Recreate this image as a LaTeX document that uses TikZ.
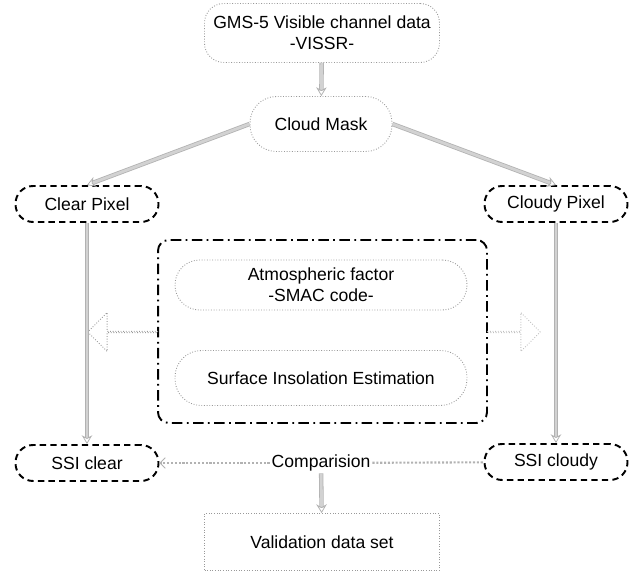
\documentclass[tikz,border=0pt]{standalone}
\usepackage{fontspec}
\setmainfont{Liberation Sans}
\usetikzlibrary{arrows.meta,shapes.arrows}

\begin{document}
\begin{tikzpicture}[x=0.02cm, y=-0.02cm, font=\fontsize{10}{12}\selectfont,
		dotbox/.style={draw=gray!80, densely dotted, line width=0.5pt, inner sep=0pt, align=center},
		dashbox/.style={draw=black, line width=1.1pt, dash pattern=on 3.6pt off 2.4pt, rounded corners=10pt,
			minimum width=2.86cm, minimum height=0.72cm, inner sep=0pt},
		flow/.style={draw=gray!60, line width=0.45pt, double=gray!35, double distance=1.6pt,
			-{Stealth[open, length=5pt, width=6pt]}},
		cmpline/.style={draw=gray!60, line width=1.2pt, densely dotted},
		blockarrow/.style={single arrow, shape border rotate=180, draw=gray!80, densely dotted, line width=0.5pt,
			minimum height=1.4cm, minimum width=0.78cm, single arrow head extend=0.25cm, inner sep=0pt}]
			\useasboundingbox (0,0) rectangle (641,573);
			
			\node[dotbox, rounded corners=11pt, minimum width=4.7cm, minimum height=1.18cm] (vissr) at (322,33) {GMS-5 Visible channel data\\-VISSR-};
			\node[dotbox, rounded corners=15pt, minimum width=2.84cm, minimum height=1.1cm] (mask) at (321,124) {Cloud Mask};
			
			\node[dashbox] (clear) at (87,204) {Clear Pixel};
			\node[dashbox] (cloudy) at (556,204) {Cloudy Pixel};
			
			\node[draw, line width=1.1pt, dash pattern=on 6pt off 2.5pt on 1pt off 2.5pt, rounded corners=6pt,
				minimum width=6.58cm, minimum height=3.66cm] (model) at (322.5,331.5) {};
			\node[dotbox, rounded corners=14pt, minimum width=5.84cm, minimum height=1cm] (atmos) at (321,285) {Atmospheric factor\\-SMAC code-};
			\node[dotbox, rounded corners=15pt, minimum width=5.84cm, minimum height=1.1cm] (insol) at (321,378) {Surface Insolation Estimation};
			
			\node[blockarrow] (toclear) at (123,332) {};
			\node[blockarrow, shape border rotate=0, draw=gray!50, minimum height=1.06cm] (tocloudy) at (513.5,332) {};
			
			\node[dashbox] (ssiclear) at (87,463) {SSI clear};
			\node[dashbox] (ssicloudy) at (556,462) {SSI cloudy};
			\node[inner sep=1pt] (comp) at (321,463) {Comparision};
			
			\node[dotbox, minimum width=4.7cm, minimum height=1.14cm] (valid) at (322,542) {Validation data set};
			
			\draw[flow] (vissr) -- (mask);
			\draw[flow] (mask.west) -- (clear.north);
			\draw[flow] (mask.east) -- (cloudy.north);
			\draw[flow] (clear) -- (ssiclear);
			\draw[flow] (cloudy) -- (ssicloudy);
			\draw[cmpline, -{Straight Barb[length=3pt, width=6pt, line width=0.5pt]}] (comp) -- (ssiclear);
			\draw[cmpline] (comp) -- (ssicloudy);
			\draw[flow] (comp) -- (valid);
			
		\end{tikzpicture}
\end{document}
